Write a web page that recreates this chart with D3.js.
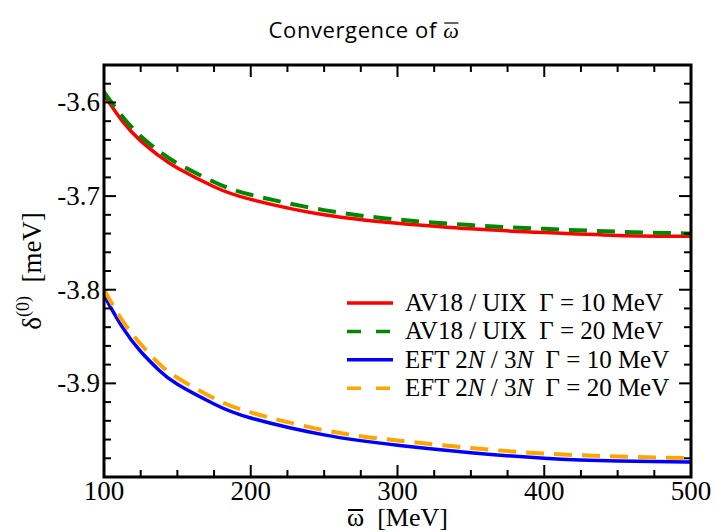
<!DOCTYPE html>
<html>
<head>
<meta charset="utf-8">
<script src="https://cdn.jsdelivr.net/npm/d3@7"></script>
<style>
  body { margin: 0; background: #fff; }
  svg { display: block; }
  .serif { font-family: "Liberation Serif", "Times New Roman", "DejaVu Serif", serif; }
  .sans { font-family: "Open Sans", "DejaVu Sans", sans-serif; }
</style>
</head>
<body>
<div id="chart"></div>
<script>
// omega bar values [MeV]
var omega = [100, 112.5, 125, 137.5, 150, 175, 200, 250, 300, 350, 400, 450, 500];

// delta^(0) [meV]
var av18G10 = [-3.592, -3.620, -3.641, -3.657, -3.670, -3.690, -3.7035, -3.720, -3.729, -3.735, -3.739, -3.742, -3.743];
var av18G20 = [-3.589, -3.615, -3.636, -3.652, -3.665, -3.685, -3.6985, -3.715, -3.725, -3.731, -3.735, -3.738, -3.740];
var eftG10 = [-3.806, -3.840, -3.866, -3.886, -3.901, -3.922, -3.937, -3.955, -3.966, -3.974, -3.980, -3.983, -3.984];
var eftG20 = [-3.800, -3.833, -3.858, -3.879, -3.894, -3.916, -3.931, -3.950, -3.961, -3.969, -3.975, -3.978, -3.980];

var xTicks = [100, 200, 300, 400, 500];
var yTicks = [-3.9, -3.8, -3.7, -3.6];

var series = [
  { name: 'av18_10', values: av18G10, color: '#ff0000', dash: null },
  { name: 'av18_20', values: av18G20, color: '#008800', dash: '18,10' },
  { name: 'eft_10', values: eftG10, color: '#0000ff', dash: null },
  { name: 'eft_20', values: eftG20, color: '#ffa500', dash: '18,10' }
];

var W = 716, H = 532;
var pLeft = 104, pRight = 691, pTop = 65, pBottom = 477;

var svg = d3.select('#chart').append('svg')
  .attr('width', W)
  .attr('height', H);

var x = d3.scaleLinear().domain([100, 500]).range([pLeft, pRight]);
var y = d3.scaleLinear().domain([-4.0, -3.56]).range([pBottom, pTop]);

// draws a bar over one character of a text element
function overbar(textSel, idx, dy, w){
  var n = textSel.node();
  var a = n.getStartPositionOfChar(idx);
  var b = n.getEndPositionOfChar(idx);
  svg.append('line')
    .attr('x1', a.x + 1).attr('x2', b.x - 1)
    .attr('y1', a.y - dy).attr('y2', a.y - dy)
    .attr('stroke', '#000')
    .attr('stroke-width', w);
}

// title
var title = svg.append('text')
  .attr('class', 'sans')
  .attr('x', 364)
  .attr('y', 38)
  .attr('text-anchor', 'middle')
  .attr('font-size', 22)
  .attr('letter-spacing', 0.6)
  .text('Convergence of ');
title.append('tspan')
  .attr('class', 'serif')
  .attr('font-style', 'italic')
  .text('ω');
overbar(title, 15, 15, 1.2);

// curves
var line = d3.line()
  .x(function(d, i){ return x(omega[i]); })
  .y(function(d){ return y(d); })
  .curve(d3.curveNatural);

var plot = svg.append('g');
plot.append('clipPath').attr('id', 'clip')
  .append('rect')
  .attr('x', pLeft).attr('y', pTop)
  .attr('width', pRight - pLeft).attr('height', pBottom - pTop);

series.forEach(function(s){
  plot.append('path')
    .attr('d', line(s.values))
    .attr('fill', 'none')
    .attr('stroke', s.color)
    .attr('stroke-width', s.dash ? 4 : 3.5)
    .attr('stroke-dasharray', s.dash)
    .attr('clip-path', 'url(#clip)');
});

// axes, ticks inward on all four sides
var xMinor = d3.range(100, 501, 25);
var yMinor = d3.range(-4.0, -3.559, 0.02);

function isMajor(v, list){
  return list.some(function(t){ return Math.abs(t - v) < 1e-6; });
}

var axisG = svg.append('g').attr('stroke', '#000').attr('stroke-width', 2);

xMinor.forEach(function(v){
  var len = isMajor(v, xTicks) ? 12 : 7;
  axisG.append('line')
    .attr('x1', x(v)).attr('x2', x(v))
    .attr('y1', pBottom).attr('y2', pBottom - len);
  axisG.append('line')
    .attr('x1', x(v)).attr('x2', x(v))
    .attr('y1', pTop).attr('y2', pTop + len);
});

yMinor.forEach(function(v){
  var len = isMajor(v, yTicks) ? 12 : 7;
  axisG.append('line')
    .attr('x1', pLeft).attr('x2', pLeft + len)
    .attr('y1', y(v)).attr('y2', y(v));
  axisG.append('line')
    .attr('x1', pRight).attr('x2', pRight - len)
    .attr('y1', y(v)).attr('y2', y(v));
});

svg.append('rect')
  .attr('x', pLeft).attr('y', pTop)
  .attr('width', pRight - pLeft).attr('height', pBottom - pTop)
  .attr('fill', 'none')
  .attr('stroke', '#000')
  .attr('stroke-width', 3);

// tick labels
svg.selectAll('.xlab').data(xTicks).enter().append('text')
  .attr('class', 'serif')
  .attr('x', function(d){ return x(d); })
  .attr('y', 500)
  .attr('text-anchor', 'middle')
  .attr('font-size', 27)
  .text(function(d){ return d; });

svg.selectAll('.ylab').data(yTicks).enter().append('text')
  .attr('class', 'serif')
  .attr('x', pLeft - 4)
  .attr('y', function(d){ return y(d) + 9; })
  .attr('text-anchor', 'end')
  .attr('font-size', 27)
  .text(function(d){ return d.toFixed(1); });

// axis titles
var xl = svg.append('text')
  .attr('class', 'serif')
  .attr('x', (pLeft + pRight) / 2)
  .attr('y', 526)
  .attr('text-anchor', 'middle')
  .attr('font-size', 26)
  .text('ω\u00a0 [MeV]');
overbar(xl, 0, 16, 2);

var yl = svg.append('text')
  .attr('class', 'serif')
  .attr('transform', 'translate(41,' + ((pTop + pBottom) / 2) + ') rotate(-90)')
  .attr('text-anchor', 'middle')
  .attr('font-size', 27);
yl.append('tspan').text('δ');
yl.append('tspan').attr('font-size', 18).attr('dy', -12).text('(0)');
yl.append('tspan').attr('dy', 12).text('\u00a0 [meV]');

// legend
var legendItems = [
  { s: series[0], parts: [['AV18 / UIX \u00a0Γ = 10 MeV', false]] },
  { s: series[1], parts: [['AV18 / UIX \u00a0Γ = 20 MeV', false]] },
  { s: series[2], parts: [['EFT 2', false], ['N', true], [' / 3', false], ['N', true], [' \u00a0Γ = 10 MeV', false]] },
  { s: series[3], parts: [['EFT 2', false], ['N', true], [' / 3', false], ['N', true], [' \u00a0Γ = 20 MeV', false]] }
];

var legend = svg.append('g');
legendItems.forEach(function(item, i){
  var ly = 303 + i * 28.4;
  legend.append('line')
    .attr('x1', 347).attr('x2', 393)
    .attr('y1', ly).attr('y2', ly)
    .attr('stroke', item.s.color)
    .attr('stroke-width', 3.5)
    .attr('stroke-dasharray', item.s.dash ? '14,15' : null);
  var t = legend.append('text')
    .attr('class', 'serif')
    .attr('x', 405)
    .attr('y', ly + 8)
    .attr('font-size', 25);
  item.parts.forEach(function(p){
    t.append('tspan')
      .attr('font-style', p[1] ? 'italic' : null)
      .text(p[0]);
  });
});
</script>
</body>
</html>
